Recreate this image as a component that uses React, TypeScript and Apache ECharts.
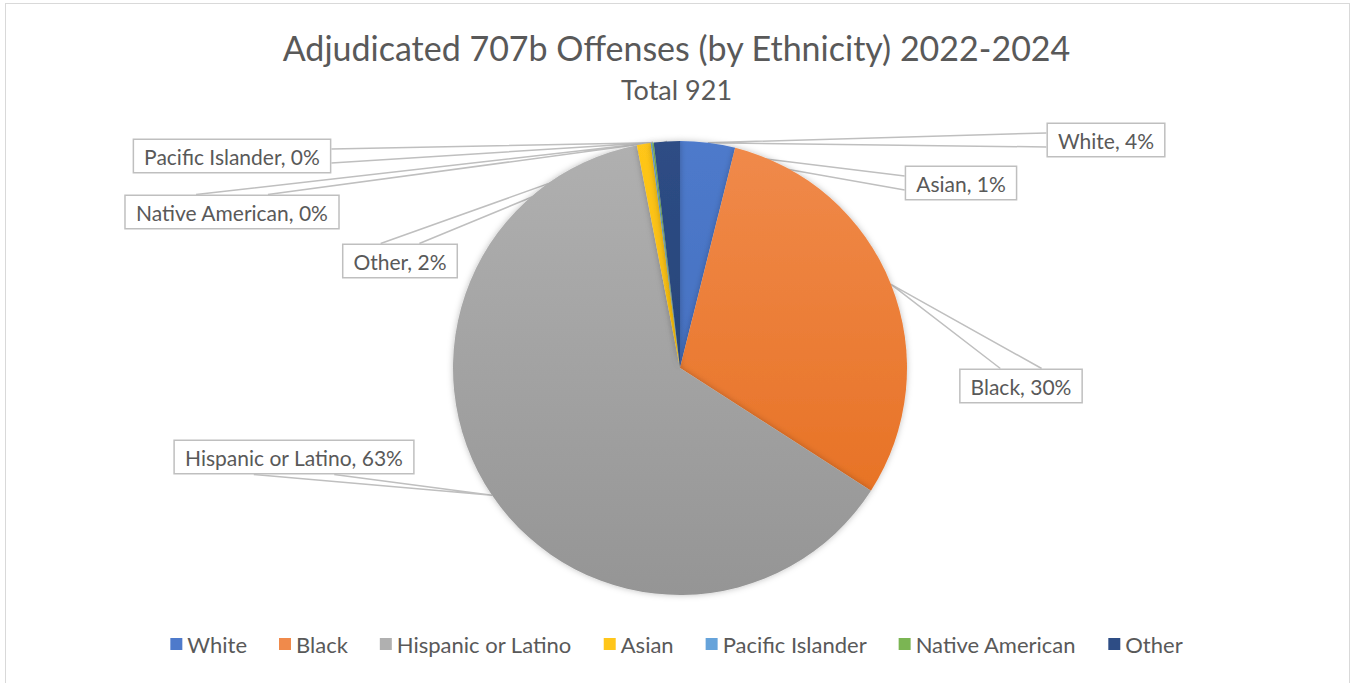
import React, { useEffect, useRef } from "react";
import * as echarts from "echarts";

const categories = ["White", "Black", "Hispanic or Latino", "Asian", "Pacific Islander", "Native American", "Other"];
const values = [36, 278, 579, 9, 1, 1, 17];
const percentLabels = ["4%", "30%", "63%", "1%", "0%", "0%", "2%"];
const titleText = "Adjudicated 707b Offenses (by Ethnicity) 2022-2024";
const subtitleText = "Total 921";

const colorsTop = ["#4E7ACB", "#F08A4B", "#B0B0B0", "#FFC61A", "#66A3DA", "#7BB553", "#2E4D85"];
const colorsBottom = ["#3E68B8", "#E56C1B", "#959595", "#F0B400", "#4E8FCB", "#66A03E", "#1F3C6E"];
const labelPos = [
  [1106, 140],
  [1021, 386],
  [294, 457],
  [961, 183],
  [232, 156],
  [232, 212],
  [400, 261],
];

const CX = 680;
const CY = 368;
const R = 227;
const FONT = "Lato, 'Liberation Sans', sans-serif";

export default function App() {
  const ref = useRef<HTMLDivElement>(null);
  useEffect(() => {
    if (!ref.current) return;
    const chart = echarts.init(ref.current, undefined, { renderer: "svg" });
    const total = values.reduce((a, b) => a + b, 0);
    const mids: number[] = [];
    let acc = 0;
    values.forEach((v) => {
      mids.push(((acc + v / 2) / total) * Math.PI * 2);
      acc += v;
    });
    const data = categories.map((name, i) => ({
      name,
      value: values[i],
      itemStyle: {
        color: new echarts.graphic.LinearGradient(
          0, CY - R, 0, CY + R,
          [
            { offset: 0, color: colorsTop[i] },
            { offset: 1, color: colorsBottom[i] },
          ],
          true
        ),
      },
    }));
    chart.setOption({
      animation: false,
      backgroundColor: "#ffffff",
      color: colorsTop,
      title: {
        text: titleText,
        subtext: subtitleText,
        left: "center",
        top: 25,
        itemGap: 12,
        textStyle: { fontFamily: FONT, fontSize: 34, fontWeight: "normal", color: "#595959" },
        subtextStyle: { fontFamily: FONT, fontSize: 27, color: "#595959" },
      },
      legend: {
        bottom: 23,
        left: "center",
        icon: "rect",
        itemWidth: 12,
        itemHeight: 12,
        itemGap: 32,
        textStyle: { fontFamily: FONT, fontSize: 22, color: "#595959" },
        data: categories,
      },
      series: [
        {
          type: "pie",
          center: [CX, CY],
          radius: R,
          startAngle: 90,
          clockwise: true,
          avoidLabelOverlap: false,
          minShowLabelAngle: 0,
          itemStyle: {
            borderWidth: 0,
            shadowBlur: 6,
            shadowColor: "rgba(0,0,0,0.25)",
          },
          label: {
            show: true,
            formatter: (p: any) => `${p.name}, ${percentLabels[p.dataIndex]}`,
            fontFamily: FONT,
            fontSize: 21,
            color: "#595959",
            backgroundColor: "#ffffff",
            borderColor: "#BFBFBF",
            borderWidth: 1.5,
            padding: [6, 10, 5, 10],
          },
          labelLine: {
            show: true,
            length: 10,
            length2: 10,
            lineStyle: { color: "#BFBFBF", width: 1.5 },
          },
          labelLayout: (params: any) => {
            const i = params.dataIndex;
            const p = labelPos[i];
            const w = params.labelRect.width;
            const h = params.labelRect.height;
            const a = mids[i];
            const ax = CX + R * Math.sin(a);
            const ay = CY - R * Math.cos(a);
            const dx = ax - p[0];
            const dy = ay - p[1];
            let b1: number[];
            let b2: number[];
            if (Math.abs(dx) / w > Math.abs(dy) / h) {
              const ex = p[0] + (dx > 0 ? w / 2 : -w / 2);
              b1 = [ex, p[1] - h / 5];
              b2 = [ex, p[1] + h / 5];
            } else {
              const ey = p[1] + (dy > 0 ? h / 2 : -h / 2);
              b1 = [p[0] - w / 6, ey];
              b2 = [p[0] + w / 6, ey];
            }
            return {
              x: p[0],
              y: p[1],
              align: "center",
              verticalAlign: "middle",
              labelLinePoints: [b1, [ax, ay], b2],
            };
          },
          data,
        },
      ],
    });
    return () => chart.dispose();
  }, []);
  return (
    <div style={{ position: "absolute", left: 0, top: 0, width: 1353, height: 683, background: "#fff" }}>
      <div ref={ref} style={{ position: "absolute", left: 0, top: 0, width: 1353, height: 683 }} />
      <div
        style={{
          position: "absolute",
          left: 5,
          top: 3,
          width: 1345,
          height: 700,
          border: "1.5px solid #D9D9D9",
          boxSizing: "border-box",
          pointerEvents: "none",
        }}
      />
    </div>
  );
}
